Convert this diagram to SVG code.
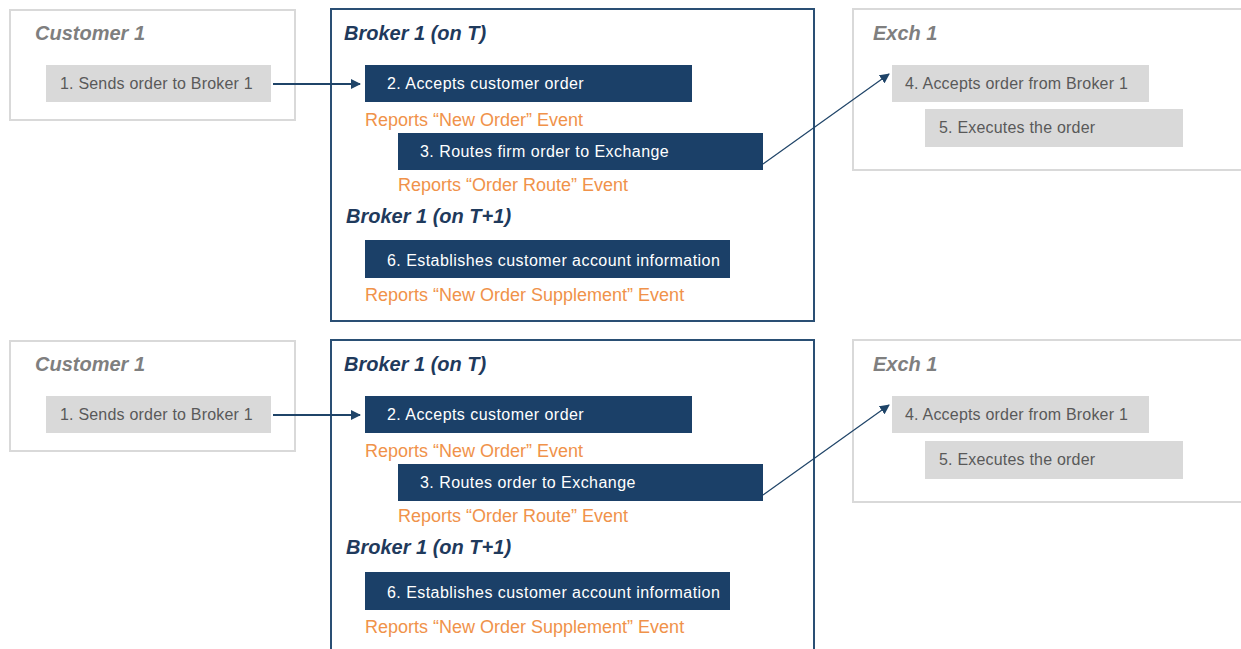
<svg xmlns="http://www.w3.org/2000/svg" width="1241" height="649" viewBox="0 0 1241 649">
<defs>
<style>
.outer-grey{fill:#fff;stroke:#d9d9d9;stroke-width:2}
.outer-navy{fill:#fff;stroke:#2a4f74;stroke-width:2}
.gbox{fill:#d9d9d9}
.nbox{fill:#1b4068}
.t{font-family:"Liberation Sans",Arial,sans-serif;font-size:16px}
.gt{fill:#595959;letter-spacing:0.2px}
.wt{fill:#ffffff;letter-spacing:0.45px}
.ot{font-family:"Liberation Sans",Arial,sans-serif;font-size:18px;fill:#f0924a}
.title{font-family:"Liberation Sans",Arial,sans-serif;font-size:20px;font-weight:bold;font-style:italic}
.tg{fill:#7f7f7f}
.tn{fill:#1f3a5c}
.conn{stroke:#1f4468;fill:none}
</style>
<marker id="ah" viewBox="0 0 10 10" refX="9" refY="5" markerWidth="10" markerHeight="10" orient="auto" markerUnits="userSpaceOnUse">
<path d="M0,0 L10,5 L0,10 Z" fill="#1f4468"/>
</marker>
</defs>

<!-- Top scenario -->
<g id="customer-top">
<rect class="outer-grey" x="10" y="10" width="285" height="110"/>
<text class="title tg" x="35" y="40">Customer 1</text>
<rect class="gbox" x="46" y="65" width="225" height="37"/>
<text class="t gt" x="60" y="89">1. Sends order to Broker 1</text>
</g>
<g id="broker-top">
<rect class="outer-navy" x="331" y="9" width="483" height="312"/>
<text class="title tn" x="344" y="40">Broker 1 (on T)</text>
<rect class="nbox" x="365" y="65" width="327" height="37"/>
<text class="t wt" x="387" y="89">2. Accepts customer order</text>
<text class="ot" x="365" y="126">Reports “New Order” Event</text>
<rect class="nbox" x="398" y="133" width="365" height="37"/>
<text class="t wt" x="420" y="157">3. Routes firm order to Exchange</text>
<text class="ot" x="398" y="191">Reports “Order Route” Event</text>
<text class="title tn" x="346" y="223">Broker 1 (on T+1)</text>
<rect class="nbox" x="365" y="240" width="365" height="38"/>
<text class="t wt" x="387" y="266">6. Establishes customer account information</text>
<text class="ot" x="365" y="301">Reports “New Order Supplement” Event</text>
</g>
<g id="exch-top">
<rect class="outer-grey" x="853" y="9" width="400" height="161"/>
<text class="title tg" x="873" y="40">Exch 1</text>
<rect class="gbox" x="892" y="65" width="257" height="37"/>
<text class="t gt" x="905" y="89">4. Accepts order from Broker 1</text>
<rect class="gbox" x="925" y="109" width="258" height="38"/>
<text class="t gt" x="939" y="133">5. Executes the order</text>
</g>

<!-- Bottom scenario -->
<g id="customer-bottom">
<rect class="outer-grey" x="10" y="341" width="285" height="110"/>
<text class="title tg" x="35" y="371">Customer 1</text>
<rect class="gbox" x="46" y="396" width="225" height="37"/>
<text class="t gt" x="60" y="420">1. Sends order to Broker 1</text>
</g>
<g id="broker-bottom">
<rect class="outer-navy" x="331" y="340" width="483" height="330"/>
<text class="title tn" x="344" y="371">Broker 1 (on T)</text>
<rect class="nbox" x="365" y="396" width="327" height="37"/>
<text class="t wt" x="387" y="420">2. Accepts customer order</text>
<text class="ot" x="365" y="457">Reports “New Order” Event</text>
<rect class="nbox" x="398" y="464" width="365" height="37"/>
<text class="t wt" x="420" y="488">3. Routes order to Exchange</text>
<text class="ot" x="398" y="522">Reports “Order Route” Event</text>
<text class="title tn" x="346" y="554">Broker 1 (on T+1)</text>
<rect class="nbox" x="365" y="572" width="365" height="38"/>
<text class="t wt" x="387" y="598">6. Establishes customer account information</text>
<text class="ot" x="365" y="633">Reports “New Order Supplement” Event</text>
</g>
<g id="exch-bottom">
<rect class="outer-grey" x="853" y="340" width="400" height="162"/>
<text class="title tg" x="873" y="371">Exch 1</text>
<rect class="gbox" x="892" y="396" width="257" height="37"/>
<text class="t gt" x="905" y="420">4. Accepts order from Broker 1</text>
<rect class="gbox" x="925" y="441" width="258" height="38"/>
<text class="t gt" x="939" y="465">5. Executes the order</text>
</g>

<g id="connectors">
<line class="conn" x1="273" y1="84" x2="360" y2="84" stroke-width="2.2" marker-end="url(#ah)"/>
<line class="conn" x1="763" y1="164" x2="889" y2="74" stroke-width="1.2" marker-end="url(#ah)"/>
<line class="conn" x1="273" y1="415" x2="360" y2="415" stroke-width="2.2" marker-end="url(#ah)"/>
<line class="conn" x1="763" y1="495" x2="889" y2="405" stroke-width="1.2" marker-end="url(#ah)"/>
</g>
</svg>
